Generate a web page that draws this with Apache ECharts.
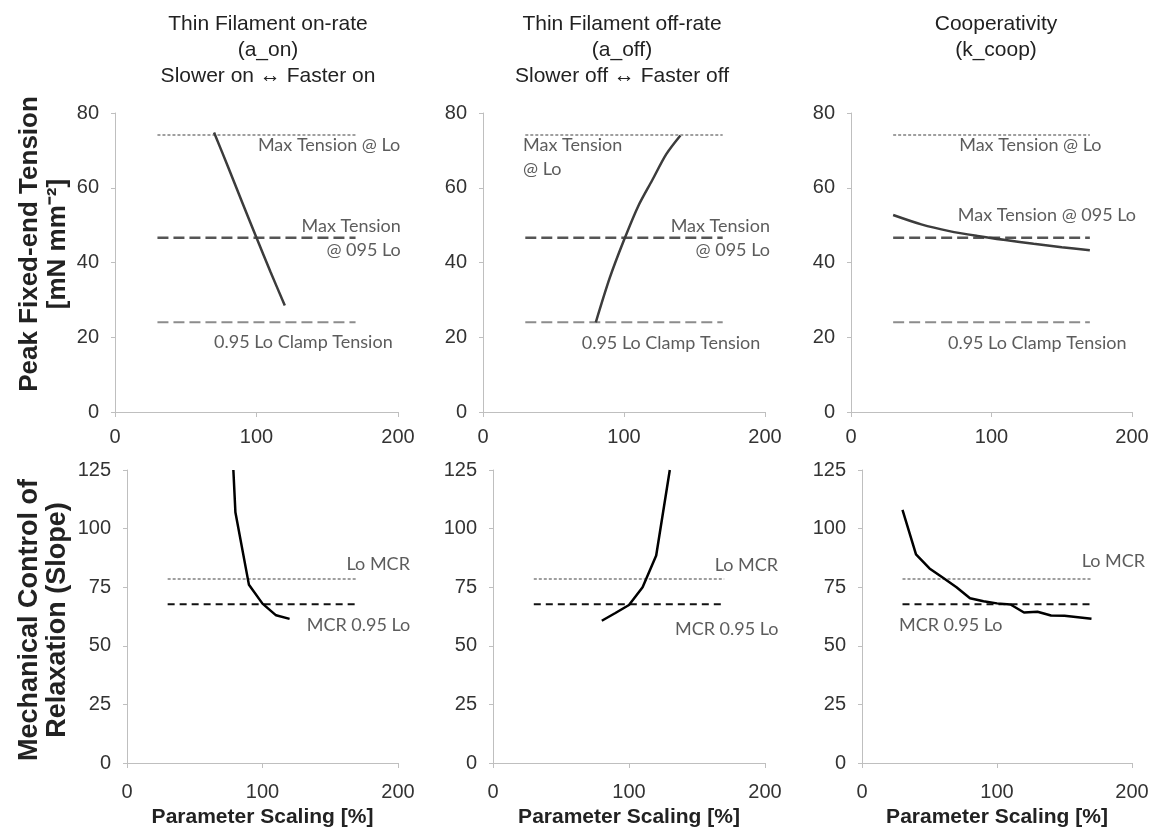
<!DOCTYPE html>
<html>
<head>
<meta charset="utf-8">
<script src="https://cdn.jsdelivr.net/npm/echarts@6/dist/echarts.min.js"></script>
<style>
  html, body { margin: 0; background: #fff; }
  #chart { width: 1160px; height: 836px; }
</style>
</head>
<body>
<div id="chart"></div>
<script>
// ---- data ----
const refX = [30, 170];

// top row: peak fixed-end tension
const onRateX = [70, 80, 90, 100, 110, 120];
const onRateTension = [74.8, 65.5, 56, 46.6, 37.4, 28.5];
const offRateX = [80, 90, 100, 110, 120, 130, 140];
const offRateTension = [24, 36, 46, 55, 62, 69, 74];
const coopX = [30, 50, 70, 90, 110, 130, 150, 170];
const coopTension = [52.7, 50.2, 48.4, 47.1, 46.0, 45.0, 44.1, 43.3];

const maxTensionLo = 74.1;
const maxTension095 = 46.6;
const clampTension = 24.0;

// bottom row: mechanical control of relaxation
const onRateMcrX = [78.5, 80, 90, 100, 110, 120];
const onRateMcr = [125, 107, 76, 68, 63, 61.5];
const offRateMcrX = [80, 90, 100, 110, 120, 130];
const offRateMcr = [60.7, 64, 67.4, 75, 88.5, 125];
const coopMcrX = [30, 40, 50, 60, 70, 80, 90, 100, 110, 120, 130, 140, 150, 160, 170];
const coopMcr = [108, 89, 83, 79, 75, 70.3, 69, 68.1, 67.6, 64.2, 64.5, 62.9, 62.8, 62.2, 61.5];

const loMcr = 78.5;
const mcr095 = 67.7;

const titles = [
  'Thin Filament on-rate\n(a_on)\nSlower on \u2194 Faster on',
  'Thin Filament off-rate\n(a_off)\nSlower off \u2194 Faster off',
  'Cooperativity\n(k_coop)'
];
const yNames = [
  'Peak Fixed-end Tension\n[mN mm\u207B\u00B2]',
  'Mechanical Control of\nRelaxation (Slope)'
];

const zip = (xs, ys) => xs.map((x, i) => [x, ys[i]]);

const labelFont = 'Lato';
const axisFont = 'Liberation Sans';

const topRefs = [
  { value: maxTensionLo, color: '#808080', width: 1.5, type: [3, 2] },
  { value: maxTension095, color: '#555', width: 2.5, type: [11, 5] },
  { value: clampTension, color: '#8c8c8c', width: 2, type: [11, 5] }
];
const bottomRefs = [
  { value: loMcr, color: '#808080', width: 1.5, type: [3, 2] },
  { value: mcr095, color: '#111', width: 2, type: [7, 5] }
];

// text notes next to the reference lines: [x, y, text, side]
const panels = [
  {
    grid: { left: 115, top: 113, width: 283, height: 299 },
    yMax: 80, yInterval: 20, xMargin: 15, smooth: 0.3,
    curve: zip(onRateX, onRateTension), color: '#3c3c3c', refs: topRefs,
    notes: [
      [101, 71.4, 'Max Tension @ Lo', 'right'],
      [202, 46.4, 'Max Tension\n@ 095 Lo', 'left'],
      [70, 18.7, '0.95 Lo Clamp Tension', 'right']
    ]
  },
  {
    grid: { left: 483, top: 113, width: 282, height: 299 },
    yMax: 80, yInterval: 20, xMargin: 15, smooth: 0.3,
    curve: zip(offRateX, offRateTension), color: '#3c3c3c', refs: topRefs,
    notes: [
      [28.4, 68.1, 'Max Tension\n@ Lo', 'right'],
      [203.5, 46.4, 'Max Tension\n@ 095 Lo', 'left'],
      [70, 18.5, '0.95 Lo Clamp Tension', 'right']
    ]
  },
  {
    grid: { left: 851, top: 113, width: 281, height: 299 },
    yMax: 80, yInterval: 20, xMargin: 15, smooth: 0.3,
    curve: zip(coopX, coopTension), color: '#3c3c3c', refs: topRefs,
    notes: [
      [77, 71.4, 'Max Tension @ Lo', 'right'],
      [76, 52.7, 'Max Tension @ 095 Lo', 'right'],
      [69, 18.5, '0.95 Lo Clamp Tension', 'right']
    ]
  },
  {
    grid: { left: 127, top: 470, width: 271, height: 293 },
    yMax: 125, yInterval: 25, xMargin: 19, smooth: false,
    curve: zip(onRateMcrX, onRateMcr), color: '#000', refs: bottomRefs,
    notes: [
      [162, 84.9, 'Lo MCR', 'right'],
      [132.6, 58.6, 'MCR 0.95 Lo', 'right']
    ],
    xName: 'Parameter Scaling [%]'
  },
  {
    grid: { left: 493, top: 470, width: 272, height: 293 },
    yMax: 125, yInterval: 25, xMargin: 19, smooth: false,
    curve: zip(offRateMcrX, offRateMcr), color: '#000', refs: bottomRefs,
    notes: [
      [163, 84.5, 'Lo MCR', 'right'],
      [133.8, 57.2, 'MCR 0.95 Lo', 'right']
    ],
    xName: 'Parameter Scaling [%]'
  },
  {
    grid: { left: 862, top: 470, width: 270, height: 293 },
    yMax: 125, yInterval: 25, xMargin: 19, smooth: false,
    curve: zip(coopMcrX, coopMcr), color: '#000', refs: bottomRefs,
    notes: [
      [162.7, 85.9, 'Lo MCR', 'right'],
      [27.4, 58.9, 'MCR 0.95 Lo', 'right']
    ],
    xName: 'Parameter Scaling [%]'
  }
];

const titleCenters = [263, 617, 991];
const yNameCenters = [244, 620];
const yNameSizes = [26, 27];

const axisLine = { show: true, lineStyle: { color: '#bfbfbf', width: 1 } };
const axisTick = { show: true, length: 5, lineStyle: { color: '#bfbfbf' } };

const myChart = echarts.init(document.getElementById('chart'));

const grid = [], xAxis = [], yAxis = [], series = [];
panels.forEach((p, i) => {
  grid.push(Object.assign({ outerBoundsMode: 'none', containLabel: false }, p.grid));
  xAxis.push({
    type: 'value', gridIndex: i, min: 0, max: 200, interval: 100,
    axisLine, axisTick, splitLine: { show: false },
    axisLabel: { margin: p.xMargin, fontSize: 20, color: '#333', fontFamily: axisFont },
    name: p.xName || '', nameLocation: 'middle', nameGap: 44,
    nameTextStyle: { fontSize: 21, fontWeight: 'bold', color: '#222', fontFamily: axisFont }
  });
  yAxis.push({
    type: 'value', gridIndex: i, min: 0, max: p.yMax, interval: p.yInterval,
    axisLine, axisTick: { show: true, length: 4, lineStyle: { color: '#bfbfbf' } },
    splitLine: { show: false },
    axisLabel: { margin: 16, fontSize: 20, color: '#333', fontFamily: axisFont }
  });
  p.refs.forEach((r) => {
    series.push({
      type: 'line', xAxisIndex: i, yAxisIndex: i, showSymbol: false, silent: true,
      data: refX.map((x) => [x, r.value]),
      lineStyle: { color: r.color, width: r.width, type: r.type },
      z: 2
    });
  });
  series.push({
    type: 'line', xAxisIndex: i, yAxisIndex: i, showSymbol: false, silent: true,
    smooth: p.smooth, data: p.curve, lineStyle: { color: p.color, width: 2.5 }, z: 3
  });
  series.push({
    type: 'scatter', xAxisIndex: i, yAxisIndex: i, symbolSize: 0, silent: true, clip: false,
    data: p.notes.map((n) => ({
      value: [n[0], n[1]],
      label: {
        show: true, formatter: n[2], position: n[3], distance: 0,
        align: n[3] === 'right' ? 'left' : 'right', verticalAlign: 'middle',
        fontSize: 18, lineHeight: 24, color: '#333', fontFamily: labelFont
      }
    })),
    z: 4
  });
});

myChart.setOption({
  backgroundColor: '#fff',
  animation: false,
  title: titles.map((t, i) => ({
    text: t, left: titleCenters[i], top: 6, textAlign: 'center',
    textStyle: { fontSize: 21, fontWeight: 'normal', lineHeight: 26, color: '#222', fontFamily: axisFont }
  })),
  graphic: yNames.map((t, i) => ({
    type: 'text', x: 44, y: yNameCenters[i], rotation: Math.PI / 2,
    style: {
      text: t, fill: '#222', fontSize: yNameSizes[i], fontWeight: 'bold', fontFamily: axisFont,
      lineHeight: 28, align: 'center', verticalAlign: 'middle',
      textAlign: 'center', textVerticalAlign: 'middle'
    }
  })),
  grid, xAxis, yAxis, series
});
</script>
</body>
</html>
